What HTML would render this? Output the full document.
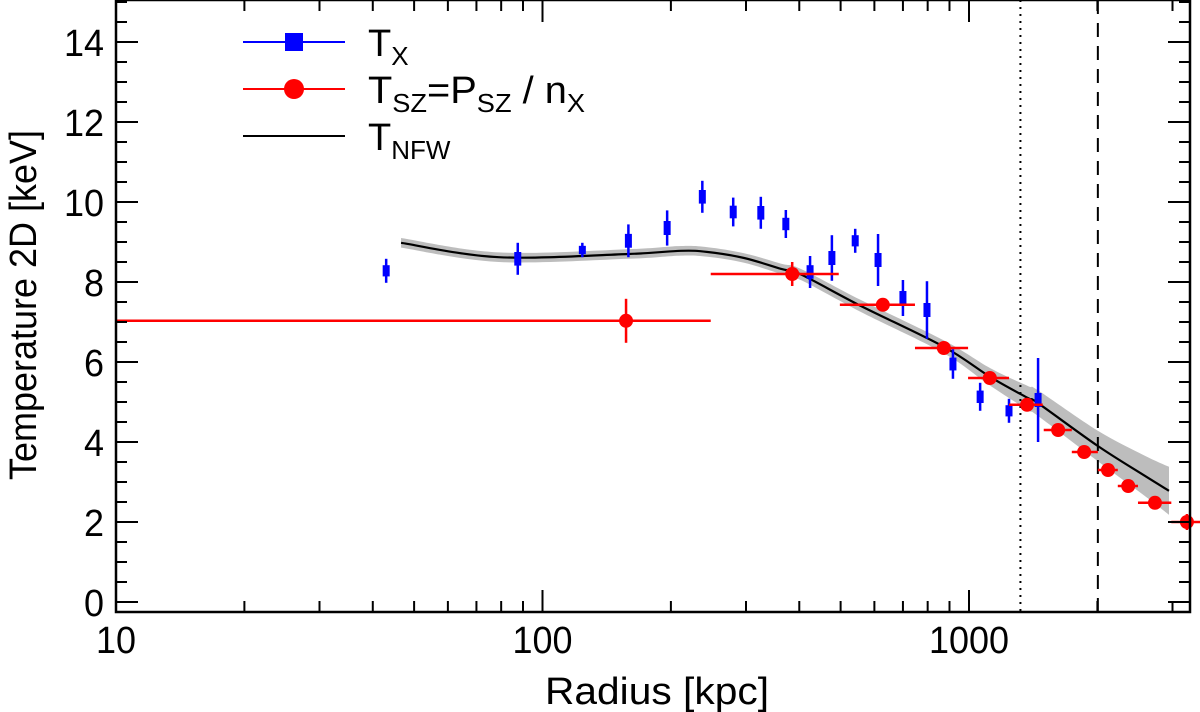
<!DOCTYPE html>
<html><head><meta charset="utf-8">
<style>
html,body{margin:0;padding:0;background:#fff;}
svg{display:block;font-family:"Liberation Sans",Arial,sans-serif;}
</style></head>
<body>
<svg id="chart" width="1200" height="712" viewBox="0 0 1200 712" xmlns="http://www.w3.org/2000/svg">
<defs><clipPath id="plotclip"><rect x="116" y="0" width="1084" height="612"/></clipPath></defs>
<g id="band" clip-path="url(#plotclip)"></g>
<g id="marks" clip-path="url(#plotclip)"></g>
<g id="axes"></g>
<g id="legend"></g>
</svg>
<script>
// ---- data ----
const txRadius = [43, 87.5, 124, 159, 196, 237, 280, 325, 372, 424, 477, 541, 612, 700, 797, 917, 1062, 1241, 1452];
const txTemp   = [8.28, 8.58, 8.8, 9.03, 9.35, 10.13, 9.75, 9.73, 9.45, 8.25, 8.6, 9.03, 8.55, 7.6, 7.3, 5.95, 5.13, 4.78, 5.05];
const txErr    = [0.3, 0.4, 0.18, 0.41, 0.44, 0.4, 0.36, 0.4, 0.35, 0.4, 0.57, 0.3, 0.65, 0.45, 0.72, 0.37, 0.35, 0.3, 1.05];
const szRadius = [157, 385, 628, 873, 1119, 1368, 1618, 1862, 2118, 2362, 2729, 3243];
const szTemp   = [7.03, 8.2, 7.43, 6.35, 5.6, 4.93, 4.3, 3.75, 3.3, 2.9, 2.48, 2.0];
const szErr    = [0.55, 0.3, 0.12, 0.12, 0.12, 0.12, 0.12, 0.12, 0.12, 0.12, 0.15, 0.2];
const szRLo    = [5, 248, 498, 747, 995, 1241, 1497, 1742, 2005, 2233, 2490, 2981];
const szRHi    = [248, 495, 747, 995, 1241, 1489, 1742, 2005, 2233, 2490, 2981, 3600];
const nfwRadius = [46.6, 79, 159, 211, 244, 297, 362, 405, 558, 873, 1124, 1374, 1452, 2005, 2570, 2944];
const nfwTemp   = [8.98, 8.62, 8.7, 8.78, 8.75, 8.6, 8.33, 8.18, 7.4, 6.38, 5.62, 5.1, 4.97, 3.9, 3.17, 2.78];
const nfwErr    = [0.12, 0.12, 0.12, 0.12, 0.12, 0.12, 0.13, 0.14, 0.15, 0.16, 0.22, 0.3, 0.32, 0.38, 0.5, 0.6];
const yTicks = [0, 2, 4, 6, 8, 10, 12, 14];
const xTicks = [10, 100, 1000];
const vLines = [1320, 2005];

// ---- axes ----
const L=116, R=1190, T=0, B=612;
const X = r => L + (Math.log10(r) - 1) * 426.5;
const Y = t => 602 - t * 40;
const NS='http://www.w3.org/2000/svg';
function el(tag, attrs, parent){const e=document.createElementNS(NS,tag);for(const k in attrs)e.setAttribute(k,attrs[k]);parent.appendChild(e);return e;}
function smooth(pts){
  let d='M'+pts[0][0]+','+pts[0][1];
  for(let i=0;i<pts.length-1;i++){
    const p0=pts[Math.max(0,i-1)],p1=pts[i],p2=pts[i+1],p3=pts[Math.min(pts.length-1,i+2)];
    d+=' C'+(p1[0]+(p2[0]-p0[0])/6)+','+(p1[1]+(p2[1]-p0[1])/6)+' '+(p2[0]-(p3[0]-p1[0])/6)+','+(p2[1]-(p3[1]-p1[1])/6)+' '+p2[0]+','+p2[1];
  }
  return d;
}
const band=document.getElementById('band'), marks=document.getElementById('marks'), axes=document.getElementById('axes');

// band
const upPts=nfwRadius.map((r,i)=>[X(r),Y(nfwTemp[i]+nfwErr[i])]);
const dnPts=nfwRadius.map((r,i)=>[X(r),Y(nfwTemp[i]-nfwErr[i])]).reverse();
const bd=smooth(upPts)+' L'+dnPts[0][0]+','+dnPts[0][1]+smooth(dnPts).replace(/^M[^ ]+/,'')+' Z';
const bp=el('path',{d:bd,fill:'#bdbdbd',stroke:'none'},band);



// vertical reference lines
vLines.forEach((v,i)=>{
  const ln=el('line',{x1:X(v),x2:X(v),y1:T,y2:B,stroke:'#000','stroke-width':2,'stroke-dasharray':i==0?'2,5':'14,9'},marks);
  
  
});

// NFW curve
const nl=el('path',{d:smooth(nfwRadius.map((r,i)=>[X(r),Y(nfwTemp[i])])),fill:'none',stroke:'#000','stroke-width':2.2},marks);



// Tx points
txRadius.forEach((r,i)=>{
  const g=el('g',{},marks);
  
  
  const x=X(r), y=Y(txTemp[i]);
  el('line',{x1:x,x2:x,y1:Y(txTemp[i]+txErr[i]),y2:Y(txTemp[i]-txErr[i]),stroke:'#0000ff','stroke-width':2.5},g);
  const h=Math.min(14, txErr[i]*40*0.6+4);
  el('rect',{x:x-3.5,y:y-h/2,width:7,height:h,fill:'#0000ff'},g);
});

// SZ points
szRadius.forEach((r,i)=>{
  const g=el('g',{},marks);
  
  
  const x=X(r), y=Y(szTemp[i]);
  el('line',{x1:X(szRLo[i]),x2:X(szRHi[i]),y1:y,y2:y,stroke:'#ff0000','stroke-width':2.5},g);
  el('line',{x1:x,x2:x,y1:Y(szTemp[i]+szErr[i]),y2:Y(szTemp[i]-szErr[i]),stroke:'#ff0000','stroke-width':2.5},g);
  el('circle',{cx:x,cy:y,r:7,fill:'#ff0000'},g);
});

// frame
const fr=el('rect',{x:L,y:T,width:R-L,height:B-T,fill:'none',stroke:'#000','stroke-width':2.5},axes);



// y ticks
for(let v=0; v<=15; v+=0.5){
  const major = Math.abs(v%2)<1e-9;
  const len = major?22:11;
  el('line',{x1:L,x2:L+len,y1:Y(v),y2:Y(v),stroke:'#000','stroke-width':2},axes);
  el('line',{x1:R,x2:R-len,y1:Y(v),y2:Y(v),stroke:'#000','stroke-width':2},axes);
}
yTicks.forEach(v=>{
  const s=String(v);
  const t=el('text',{x:104,y:Y(v)+14,'text-anchor':'end','font-size':38,textLength:s.length*20,lengthAdjust:'spacingAndGlyphs'},axes);
  t.textContent=s;
  
  
});
// x ticks
for(let d=10; d<=1000; d*=10){
  for(let m=1;m<=9;m++){
    const v=d*m; if(X(v)>R) continue;
    const len = m==1?22:11;
    el('line',{x1:X(v),x2:X(v),y1:B,y2:B-len,stroke:'#000','stroke-width':2},axes);
    el('line',{x1:X(v),x2:X(v),y1:T,y2:T+len,stroke:'#000','stroke-width':2},axes);
  }
}
xTicks.forEach(v=>{
  const s=String(v);
  const t=el('text',{x:X(v),y:653,'text-anchor':'middle','font-size':38,textLength:s.length*20,lengthAdjust:'spacingAndGlyphs'},axes);
  t.textContent=s;
  
  
});
const xt=el('text',{x:657,y:704,'text-anchor':'middle','font-size':38,textLength:224,lengthAdjust:'spacingAndGlyphs'},axes);
xt.textContent='Radius [kpc]';


const yt=el('text',{x:0,y:0,'text-anchor':'middle','font-size':38,textLength:350,lengthAdjust:'spacingAndGlyphs',transform:'translate(36,305) rotate(-90)'},axes);
yt.textContent='Temperature 2D [keV]';


</script>
<script>
// legend (static)
(function(){
  const lg=document.getElementById('legend');
  lg.innerHTML=
  '<g><line x1="243" x2="345" y1="42" y2="42" stroke="#0000ff" stroke-width="2"/><rect x="285" y="33" width="18" height="18" fill="#0000ff"/>'+
  '<text x="368" y="56" font-size="38">T<tspan font-size="26" dy="9">X</tspan></text></g>'+
  '<g><line x1="243" x2="345" y1="89" y2="89" stroke="#ff0000" stroke-width="2"/><circle cx="294" cy="89" r="10" fill="#ff0000"/>'+
  '<text x="368" y="103" font-size="38" textLength="217" lengthAdjust="spacingAndGlyphs">T<tspan font-size="26" dy="9">SZ</tspan><tspan dy="-9">=P</tspan><tspan font-size="26" dy="9">SZ</tspan><tspan dy="-9"> / n</tspan><tspan font-size="26" dy="9">X</tspan></text></g>'+
  '<g><line x1="243" x2="345" y1="136" y2="136" stroke="#000" stroke-width="2"/>'+
  '<text x="368" y="150" font-size="38">T<tspan font-size="26" dy="9">NFW</tspan></text></g>';
})();
</script>
</body></html>
